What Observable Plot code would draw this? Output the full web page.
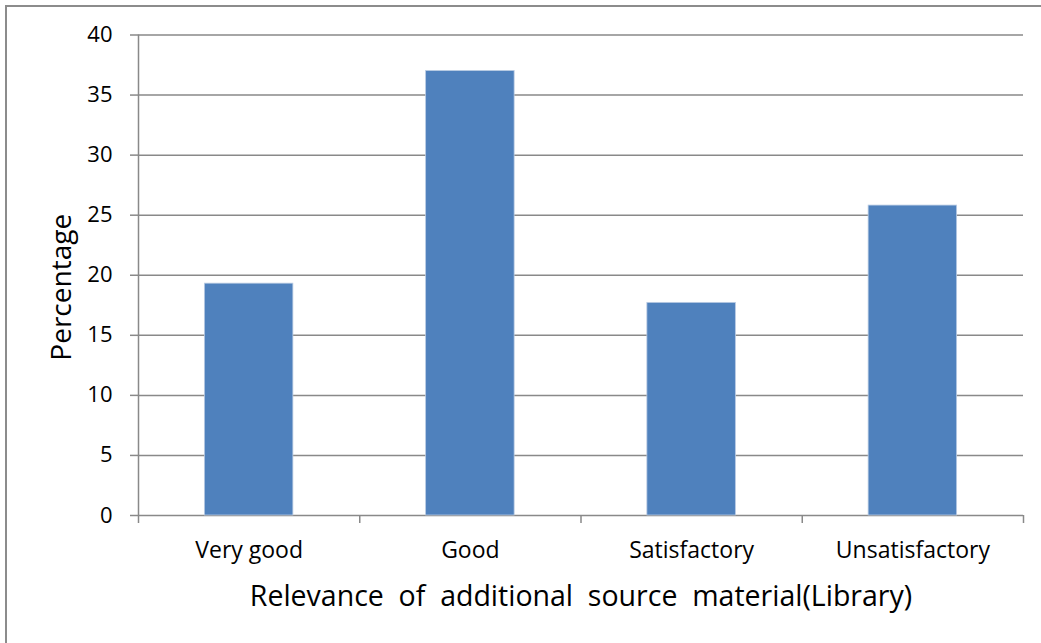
<!DOCTYPE html>
<html>
<head>
<meta charset="utf-8">
<script src="https://cdn.jsdelivr.net/npm/d3@7"></script>
<script src="https://cdn.jsdelivr.net/npm/@observablehq/plot@0.6"></script>
<style>
  html, body { margin: 0; padding: 0; background: #fff; }
  #wrap { position: relative; width: 1041px; height: 643px; overflow: hidden; }
  #border { position: absolute; left: 5px; top: 5px; width: 1040px; height: 640px;
            border-top: 2px solid #8c8c8c; border-left: 2px solid #8c8c8c; box-sizing: border-box; pointer-events: none; }
  #chart { position: absolute; left: 0; top: 0; }
</style>
</head>
<body>
<div id="wrap"><div id="chart"></div><div id="border"></div></div>
<script>
const categories = ["Very good", "Good", "Satisfactory", "Unsatisfactory"];
const values = [19.3, 37.0, 17.7, 25.8];
const yTicks = [0, 5, 10, 15, 20, 25, 30, 35, 40];
const xTitle = "Relevance\u00a0 of\u00a0 additional\u00a0 source\u00a0 material(Library)";
const yTitle = "Percentage";

const data = categories.map((c, i) => ({category: c, value: values[i], i}));
const boundaries = d3.range(categories.length + 1);
const centers = categories.map((c, i) => i + 0.5);
const gray = "#898989";
const font = "'Open Sans', Lato, 'Liberation Sans', sans-serif";

const chart = Plot.plot({
  width: 1041,
  height: 643,
  marginLeft: 138,
  marginRight: 18,
  marginTop: 34.5,
  marginBottom: 128,
  x: {domain: [0, categories.length], axis: null},
  y: {domain: [0, 40], axis: null},
  style: {fontFamily: font, background: "transparent", color: "#000"},
  marks: [
    Plot.gridY(yTicks, {stroke: gray, strokeOpacity: 1, strokeWidth: 1.5}),
    Plot.axisY({ticks: yTicks, tickSize: 8, tickPadding: 18, fontSize: 22, stroke: gray, strokeWidth: 1.5, label: null, fill: "#000"}),
    Plot.rectY(data, {x1: d => d.i + 0.3, x2: d => d.i + 0.7, y1: 0, y2: "value", fill: "#4f81bd", stroke: "#b9cbe3", strokeWidth: 0.8}),
    Plot.ruleX([0], {y1: 0, y2: 40, stroke: gray, strokeWidth: 1.5}),
    Plot.axisX({ticks: boundaries, tickSize: 8, tickFormat: () => "", stroke: gray, strokeWidth: 1.5, label: null}),
    Plot.axisX({ticks: centers, tickSize: 0, tickPadding: 26, tickFormat: v => categories[Math.floor(v)], fontSize: 23, label: null, fill: "#000"}),
    Plot.text([xTitle], {frameAnchor: "bottom", lineAnchor: "top", dy: 70, fontSize: 28.5, fill: "#000"}),
    Plot.text([yTitle], {frameAnchor: "left", textAnchor: "middle", rotate: -90, dx: -76, dy: 12, fontSize: 28, fill: "#000"})
  ]
});
document.getElementById("chart").appendChild(chart);
</script>
</body>
</html>
